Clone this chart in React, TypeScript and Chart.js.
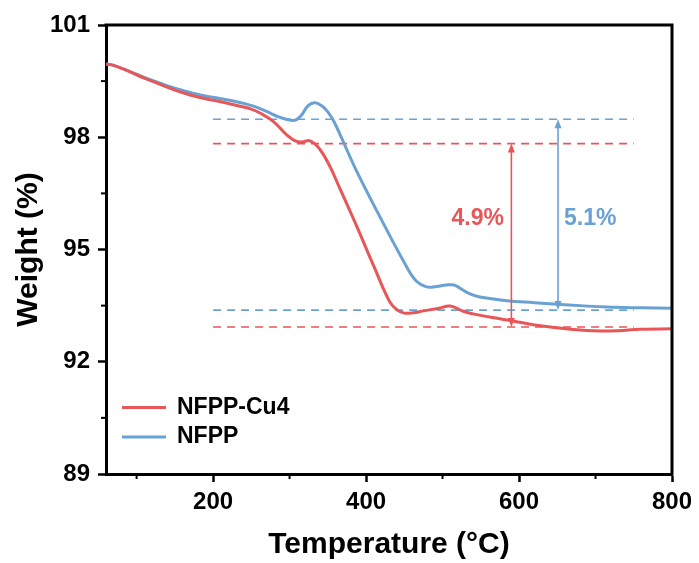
import React, { useEffect, useRef } from "react";
import { Chart, registerables } from "chart.js";

Chart.register(...registerables);

const FONT = '"Liberation Sans", Arial, Helvetica, sans-serif';
const RED = "rgb(232,86,88)";
const BLUE = "rgb(106,161,211)";

// TGA curve of NFPP-Cu4 (temperature in °C, weight in %)
const cu4Temperature = [60, 70, 90, 110, 130, 150, 170, 190, 210, 235, 250, 262, 279, 296, 309, 318, 326, 338, 352, 366, 388, 410, 431, 441, 450, 462, 475, 495, 510, 527, 540, 565, 592, 628, 671, 706, 730, 758, 800];
const cu4Weight = [99.96, 99.92, 99.76, 99.58, 99.42, 99.26, 99.13, 99.03, 98.95, 98.83, 98.75, 98.64, 98.42, 98.07, 97.89, 97.88, 97.91, 97.72, 97.25, 96.62, 95.61, 94.56, 93.6, 93.38, 93.3, 93.31, 93.36, 93.43, 93.49, 93.35, 93.28, 93.18, 93.09, 92.96, 92.86, 92.82, 92.83, 92.87, 92.88];

// TGA curve of NFPP
const nfppTemperature = [60, 70, 90, 110, 130, 150, 170, 190, 210, 235, 253, 270, 285, 298, 308, 316, 324, 333, 342, 350, 358, 368, 388, 418, 453, 466, 479, 492, 505, 515, 524, 533, 545, 562, 584, 620, 650, 680, 715, 760, 800];
const nfppWeight = [99.96, 99.92, 99.77, 99.6, 99.45, 99.31, 99.2, 99.1, 99.03, 98.93, 98.83, 98.69, 98.55, 98.47, 98.46, 98.6, 98.84, 98.92, 98.84, 98.68, 98.42, 97.98, 97.08, 95.88, 94.54, 94.15, 94.0, 94.01, 94.05, 94.05, 93.95, 93.84, 93.75, 93.69, 93.63, 93.58, 93.54, 93.5, 93.46, 93.44, 93.43];

// Weight-loss guide levels (start / end) and the span they are drawn over
const cu4Levels = [97.83, 92.93];
const nfppLevels = [98.48, 93.38];
const guideSpan = [200, 750];

// Weight-loss arrows and their labels
const cu4ArrowTemperature = 590;
const nfppArrowTemperature = 651;
const cu4LossLabel = "4.9%";
const nfppLossLabel = "5.1%";
const cu4LabelPos = [546, 95.83];
const nfppLabelPos = [693, 95.83];

// Axes
const xTicks = [200, 400, 600, 800];
const xMinorTicks = [100, 300, 500, 700];
const yTicks = [89, 92, 95, 98, 101];
const yMinorTicks = [90.5, 93.5, 96.5, 99.5];
const seriesNames = ["NFPP-Cu4", "NFPP"];

const toPoints = (xs: number[], ys: number[]) => xs.map((x, i) => ({ x, y: ys[i] }));

const guide = (level: number, color: string) => ({
  data: guideSpan.map((x) => ({ x, y: level })),
  borderColor: color,
  borderWidth: 1.6,
  borderDash: [8, 6],
  pointRadius: 0,
  fill: false,
  tension: 0,
});

const decorPlugin = {
  id: "decor",
  afterDatasetsDraw(chart: any) {
    const { ctx, scales } = chart;
    const xs = scales.x;
    const ys = scales.y;

    const arrow = (t: number, top: number, bottom: number, color: string) => {
      const x = xs.getPixelForValue(t);
      const y1 = ys.getPixelForValue(top);
      const y2 = ys.getPixelForValue(bottom);
      const head = 9;
      const half = 3.5;
      ctx.save();
      ctx.strokeStyle = color;
      ctx.fillStyle = color;
      ctx.lineWidth = 1.6;
      ctx.beginPath();
      ctx.moveTo(x, y1 + head - 1);
      ctx.lineTo(x, y2 - head + 1);
      ctx.stroke();
      ctx.beginPath();
      ctx.moveTo(x, y1);
      ctx.lineTo(x - half, y1 + head);
      ctx.lineTo(x + half, y1 + head);
      ctx.closePath();
      ctx.fill();
      ctx.beginPath();
      ctx.moveTo(x, y2);
      ctx.lineTo(x - half, y2 - head);
      ctx.lineTo(x + half, y2 - head);
      ctx.closePath();
      ctx.fill();
      ctx.restore();
    };
    arrow(cu4ArrowTemperature, cu4Levels[0], cu4Levels[1], RED);
    arrow(nfppArrowTemperature, nfppLevels[0], nfppLevels[1], BLUE);

    ctx.save();
    ctx.font = `bold 23px ${FONT}`;
    ctx.textAlign = "center";
    ctx.textBaseline = "middle";
    ctx.fillStyle = RED;
    ctx.fillText(cu4LossLabel, xs.getPixelForValue(cu4LabelPos[0]), ys.getPixelForValue(cu4LabelPos[1]));
    ctx.fillStyle = BLUE;
    ctx.fillText(nfppLossLabel, xs.getPixelForValue(nfppLabelPos[0]), ys.getPixelForValue(nfppLabelPos[1]));
    ctx.restore();
  },
  afterDraw(chart: any) {
    const { ctx, chartArea, scales } = chart;
    const { left, right, top, bottom } = chartArea;
    ctx.save();

    // top and right frame
    ctx.strokeStyle = "#000";
    ctx.lineWidth = 3;
    ctx.beginPath();
    ctx.moveTo(left - 1.5, top);
    ctx.lineTo(right, top);
    ctx.lineTo(right, bottom + 1.5);
    ctx.stroke();

    // minor ticks
    ctx.lineWidth = 2;
    xMinorTicks.forEach((v) => {
      const x = scales.x.getPixelForValue(v);
      ctx.beginPath();
      ctx.moveTo(x, bottom);
      ctx.lineTo(x, bottom + 5);
      ctx.stroke();
    });
    yMinorTicks.forEach((v) => {
      const y = scales.y.getPixelForValue(v);
      ctx.beginPath();
      ctx.moveTo(left, y);
      ctx.lineTo(left - 5, y);
      ctx.stroke();
    });

    // axis titles
    ctx.fillStyle = "#000";
    ctx.font = `bold 30px ${FONT}`;
    ctx.textAlign = "center";
    ctx.textBaseline = "alphabetic";
    ctx.fillText("Temperature (°C)", (left + right) / 2, 553);
    ctx.save();
    ctx.translate(37, (top + bottom) / 2);
    ctx.rotate(-Math.PI / 2);
    ctx.fillText("Weight (%)", 0, 0);
    ctx.restore();

    // legend
    const colors = [RED, BLUE];
    const rows = [407.5, 437];
    ctx.font = `bold 23px ${FONT}`;
    ctx.textAlign = "left";
    ctx.textBaseline = "middle";
    seriesNames.forEach((name, i) => {
      ctx.strokeStyle = colors[i];
      ctx.lineWidth = 3;
      ctx.beginPath();
      ctx.moveTo(122, rows[i]);
      ctx.lineTo(166, rows[i]);
      ctx.stroke();
      ctx.fillStyle = "#000";
      ctx.fillText(name, 177, rows[i]);
    });
    ctx.restore();
  },
};

export default function App() {
  const ref = useRef<HTMLCanvasElement>(null);

  useEffect(() => {
    document.body.style.margin = "0";
    const canvas = ref.current;
    if (!canvas) return;

    const tickFont = { family: FONT, size: 24, weight: "bold" as const };

    const chart = new Chart(canvas, {
      type: "line",
      data: {
        datasets: [
          {
            label: seriesNames[0],
            data: toPoints(cu4Temperature, cu4Weight),
            borderColor: RED,
            borderWidth: 3,
            pointRadius: 0,
            tension: 0.4,
            fill: false,
          },
          {
            label: seriesNames[1],
            data: toPoints(nfppTemperature, nfppWeight),
            borderColor: BLUE,
            borderWidth: 3,
            pointRadius: 0,
            tension: 0.4,
            fill: false,
          },
          guide(cu4Levels[0], RED),
          guide(cu4Levels[1], RED),
          guide(nfppLevels[0], BLUE),
          guide(nfppLevels[1], BLUE),
        ] as any,
      },
      options: {
        responsive: false,
        animation: false,
        layout: { padding: { top: 25, right: 27, left: 0, bottom: 0 } },
        plugins: {
          legend: { display: false },
          tooltip: { enabled: false },
        },
        scales: {
          x: {
            type: "linear",
            min: 60,
            max: 800,
            afterBuildTicks: (s: any) => {
              s.ticks = xTicks.map((value) => ({ value }));
            },
            afterFit: (s: any) => {
              s.height = 89;
            },
            ticks: {
              font: tickFont,
              color: "#000",
              padding: 6,
              maxRotation: 0,
              autoSkip: false,
            },
            grid: {
              drawOnChartArea: false,
              tickLength: 8,
              tickWidth: 2.5,
              tickColor: "#000",
            },
            border: { width: 3, color: "#000" },
          },
          y: {
            type: "linear",
            min: 89,
            max: 101,
            afterBuildTicks: (s: any) => {
              s.ticks = yTicks.map((value) => ({ value }));
            },
            afterFit: (s: any) => {
              s.width = 106;
            },
            ticks: {
              font: tickFont,
              color: "#000",
              padding: 8,
              autoSkip: false,
            },
            grid: {
              drawOnChartArea: false,
              tickLength: 8,
              tickWidth: 2.5,
              tickColor: "#000",
            },
            border: { width: 3, color: "#000" },
          },
        },
      } as any,
      plugins: [decorPlugin],
    });

    return () => chart.destroy();
  }, []);

  return <canvas ref={ref} width={699} height={563} style={{ display: "block" }} />;
}
